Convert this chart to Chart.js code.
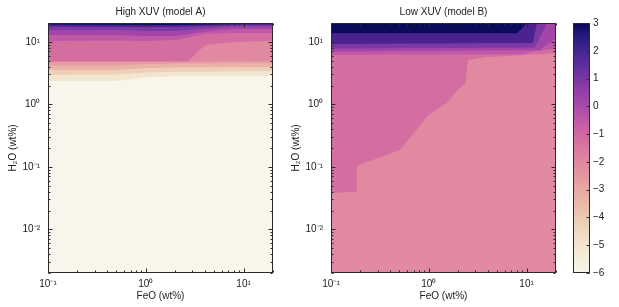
<!DOCTYPE html>
<html><head><meta charset="utf-8">
<script src="https://cdn.jsdelivr.net/npm/chart.js@4.4.0/dist/chart.umd.min.js"></script>
<style>
html,body{margin:0;padding:0;background:#fff;}
#wrap{position:relative;width:619px;height:307px;overflow:hidden;background:#fff;}
canvas{position:absolute;top:0;}
</style></head><body>
<div id="wrap">
<canvas id="cA" width="290" height="307" style="left:0px"></canvas>
<canvas id="cB" width="290" height="307" style="left:283px"></canvas>
<canvas id="cC" width="59" height="307" style="left:560px"></canvas>
</div>
<script>
// ---------------- data ----------------
const TITLES = ['High XUV (model A)', 'Low XUV (model B)'];
const X_LABEL = 'FeO (wt%)';
const Y_LABEL = 'H\u2082O (wt%)';
const FEO_RANGE = [0.1, 20];
const H2O_RANGE = [0.002, 20];
const X_TICKS = [0.1, 1, 10];
const Y_TICKS = [0.01, 0.1, 1, 10];
const CBAR_RANGE = [-6, 3];
const CBAR_TICKS = [-6, -5, -4, -3, -2, -1, 0, 1, 2, 3];

// lower edge of each filled contour band, as [FeO, H2O] pairs (band fills upward)
// model A (High XUV)
const A_L0 = [[0.1, 0.002], [20, 0.002]];
const A_L1 = [[0.1, 2.36], [0.5, 2.36], [1, 2.7], [2, 2.8], [20, 2.84]];
const A_L2 = [[0.1, 2.94], [0.5, 3.0], [1, 3.23], [2, 3.29], [20, 3.41]];
const A_L3 = [[0.1, 3.54], [0.5, 3.54], [1, 3.81], [2, 3.88], [20, 3.95]];
const A_L4 = [[0.1, 4.18], [0.5, 4.18], [1, 4.42], [2, 4.5], [20, 4.58]];
const A_L5 = [[0.1, 4.84], [2, 4.84], [20, 4.93]];
const A_L6 = [[0.1, 4.84], [2.7, 4.84], [4.03, 8.9], [7.8, 9.8], [20, 10.4]];
const A_L7 = [[0.1, 10.3], [0.5, 10.5], [1, 10.3], [2, 10.7], [4, 13.3], [7.8, 13.8], [20, 13.8]];
const A_L8 = [[0.1, 12.9], [0.5, 12.9], [1, 12.4], [2, 12.4], [4, 14.5], [7.8, 16.0], [20, 16.0]];
const A_L9 = [[0.1, 15.5], [0.5, 15.5], [1, 14.9], [2, 14.9], [4, 16.2], [7.8, 17.5], [20, 17.5]];
const A_L10 = [[0.1, 17.5], [1, 17.3], [2, 17.3], [7.8, 18.6], [20, 18.6]];
const A_L11 = [[0.1, 18.9], [1, 18.6], [2, 18.6], [7.8, 19.3], [20, 19.3]];
// model B (Low XUV)
const B_L5 = [[0.1, 0.002], [20, 0.002]];
const B_L6 = [[0.1, 0.038], [0.183, 0.040], [0.183, 0.104], [0.508, 0.186], [0.99, 0.675], [1.52, 1.04],
              [2.0, 1.74], [2.38, 2.17], [2.5, 5.12], [3.76, 5.65], [20, 6.55]];
const B_L7 = [[0.1, 6.2], [8.5, 6.35], [20, 7.9]];
const B_L8 = [[0.1, 7.0], [13.7, 7.4], [20, 11.5]];
const B_L9 = [[0.1, 7.8], [12.2, 8.1], [16.2, 20]];
const B_L10 = [[0.1, 9.2], [11.6, 9.6], [12.8, 20]];
const B_L11 = [[0.1, 13.7], [7.9, 13.7], [8.8, 16.0], [10.0, 20]];

// ---------------- style ----------------
const BAND_COLORS = ['#f8f6ea', '#f2e6d0', '#eed0ba', '#e9b3a8', '#e59ca2', '#e189a0',
                     '#d46ea0', '#c058a8', '#a446a8', '#7e38a6', '#4b2390', '#0b0b5c'];
const CMAP = [[-6, '#f8f6e8'], [-5.5, '#f6eedd'], [-5, '#f3e5cf'], [-4.5, '#f0d8c0'], [-4, '#edc9b2'],
              [-3.5, '#eab9a8'], [-3, '#e8a8a2'], [-2.5, '#e597a0'], [-2, '#e088a0'], [-1.5, '#d978a0'],
              [-1, '#d068a2'], [-0.5, '#bf58a8'], [0, '#aa4aa8'], [0.5, '#9440a8'], [1, '#7a36a4'],
              [1.5, '#5e2d9c'], [2, '#432590'], [2.5, '#281a7c'], [3, '#080858']];
const FONT = {family: '"Liberation Sans", Arial, Helvetica, sans-serif', size: 10};
const TXT = '#222';
const FRAME = '#2a2a2a';

const SUP = {'-': '\u207B', '0': '\u2070', '1': '\u00B9', '2': '\u00B2', '3': '\u00B3'};
function powLabel(v) {
  const e = Math.round(Math.log10(v));
  return '10' + String(e).split('').map(c => SUP[c]).join('');
}

function band(points, k) {
  return {
    data: points.map(([x, y]) => ({x, y})),
    fill: 'end', backgroundColor: BAND_COLORS[k], borderWidth: 0, borderColor: 'rgba(0,0,0,0)',
    pointRadius: 0, tension: 0, order: 100 - k
  };
}

function logTicks(min, max) {
  const out = [];
  for (let e = Math.floor(Math.log10(min)); e <= Math.ceil(Math.log10(max)); e++) {
    for (let m = 1; m <= 9; m++) {
      const v = m * Math.pow(10, e);
      if (v >= min * 0.999 && v <= max * 1.001) out.push([v, m === 1]);
    }
  }
  return out;
}

const framePlugin = {
  id: 'frame',
  afterDraw(chart) {
    const {ctx, chartArea: a, scales} = chart;
    ctx.save();
    ctx.strokeStyle = FRAME; ctx.lineWidth = 1;
    const L = Math.round(a.left) + 0.5, R = Math.round(a.right) - 0.5;
    const T = Math.round(a.top) + 0.5, B = Math.round(a.bottom) - 0.5;
    ctx.strokeRect(L, T, R - L, B - T);
    ctx.beginPath();
    for (const [v, major] of logTicks(FEO_RANGE[0], FEO_RANGE[1])) {
      const x = Math.round(scales.x.getPixelForValue(v)) + 0.5;
      const len = major ? 4 : 2;
      ctx.moveTo(x, B); ctx.lineTo(x, B - len);
      ctx.moveTo(x, T); ctx.lineTo(x, T + len);
    }
    for (const [v, major] of logTicks(H2O_RANGE[0], H2O_RANGE[1])) {
      const y = Math.round(scales.y.getPixelForValue(v)) + 0.5;
      const len = major ? 4 : 2;
      ctx.moveTo(L, y); ctx.lineTo(L + len, y);
      ctx.moveTo(R, y); ctx.lineTo(R - len, y);
    }
    ctx.stroke();
    ctx.restore();
  }
};

function contourChart(id, title, bands) {
  return new Chart(document.getElementById(id), {
    type: 'line',
    data: {datasets: bands},
    plugins: [framePlugin],
    options: {
      responsive: false, animation: false,
      layout: {padding: {left: 0, right: 17, top: 0, bottom: 0}},
      plugins: {
        legend: {display: false}, tooltip: {enabled: false},
        title: {display: true, text: title, color: TXT, font: {...FONT, weight: 'normal'},
                fullSize: false, padding: {top: 6, bottom: 5}}
      },
      scales: {
        x: {
          type: 'logarithmic', position: 'bottom', min: FEO_RANGE[0], max: FEO_RANGE[1],
          grid: {display: false, drawTicks: false}, border: {display: false},
          afterBuildTicks: s => { s.ticks = X_TICKS.map(v => ({value: v})); },
          afterFit: s => { s.height = 34; },
          ticks: {color: TXT, font: FONT, padding: 5, autoSkip: false, maxRotation: 0,
                  callback: v => powLabel(v)},
          title: {display: true, text: X_LABEL, color: TXT, font: FONT, padding: {top: 0, bottom: 5}}
        },
        y: {
          type: 'logarithmic', position: 'left', min: H2O_RANGE[0], max: H2O_RANGE[1],
          grid: {display: false, drawTicks: false}, border: {display: false},
          afterBuildTicks: s => { s.ticks = Y_TICKS.map(v => ({value: v})); },
          afterFit: s => { s.width = 48; },
          ticks: {color: TXT, font: FONT, padding: 8, autoSkip: false, callback: v => powLabel(v)},
          title: {display: true, text: Y_LABEL, color: TXT, font: FONT, padding: {top: 7, bottom: 0}}
        }
      }
    }
  });
}

contourChart('cA', TITLES[0],
  [A_L0, A_L1, A_L2, A_L3, A_L4, A_L5, A_L6, A_L7, A_L8, A_L9, A_L10, A_L11].map((p, i) => band(p, i)));
contourChart('cB', TITLES[1],
  [B_L5, B_L6, B_L7, B_L8, B_L9, B_L10, B_L11].map((p, i) => band(p, i + 5)));

// colorbar
const cbarPlugin = {
  id: 'cbarFrame',
  afterDraw(chart) {
    const {ctx, chartArea: a, scales} = chart;
    ctx.save();
    ctx.strokeStyle = FRAME; ctx.lineWidth = 1;
    const L = Math.round(a.left) + 0.5, R = Math.round(a.right) - 0.5;
    const T = Math.round(a.top) + 0.5, B = Math.round(a.bottom) - 0.5;
    ctx.strokeRect(L, T, R - L, B - T);
    ctx.beginPath();
    for (const v of CBAR_TICKS) {
      const y = Math.round(scales.y.getPixelForValue(v)) + 0.5;
      ctx.moveTo(R, y); ctx.lineTo(R - 3, y);
    }
    ctx.stroke();
    ctx.restore();
  }
};
new Chart(document.getElementById('cC'), {
  type: 'bar',
  data: {labels: [''], datasets: [{
    data: [CBAR_RANGE], borderWidth: 0, barPercentage: 1, categoryPercentage: 1,
    backgroundColor: (c) => {
      const a = c.chart.chartArea; if (!a) return '#ccc';
      const g = c.chart.ctx.createLinearGradient(0, a.bottom, 0, a.top);
      CMAP.forEach(([v, col]) => g.addColorStop((v - CBAR_RANGE[0]) / (CBAR_RANGE[1] - CBAR_RANGE[0]), col));
      return g;
    }
  }]},
  plugins: [cbarPlugin],
  options: {
    responsive: false, animation: false,
    layout: {padding: {left: 13, right: 0, top: 23, bottom: 34}},
    plugins: {legend: {display: false}, tooltip: {enabled: false}},
    scales: {
      x: {display: false},
      y: {position: 'right', min: CBAR_RANGE[0], max: CBAR_RANGE[1],
          grid: {display: false, drawTicks: false}, border: {display: false},
          afterBuildTicks: s => { s.ticks = CBAR_TICKS.map(v => ({value: v})); },
          afterFit: s => { s.width = 29; },
          ticks: {color: TXT, font: FONT, padding: 3, callback: v => v < 0 ? '\u2212' + Math.abs(v) : String(v)}}
    }
  }
});
</script>
</body></html>
